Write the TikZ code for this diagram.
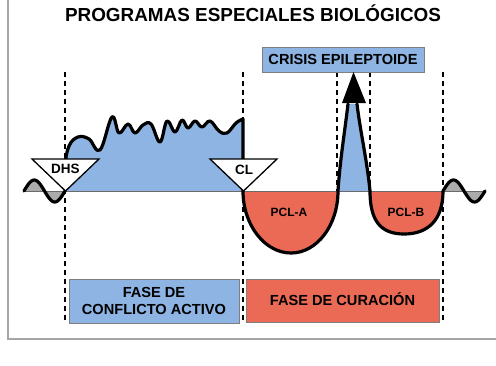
\documentclass[tikz,border=0pt]{standalone}
\usepackage{fontspec}
\setmainfont{Liberation Sans}
\definecolor{bfill}{HTML}{8DB4E2}
\definecolor{rfill}{HTML}{EB6A56}
\definecolor{gfill}{HTML}{ABABAB}
\definecolor{framec}{HTML}{A6A6A6}
\definecolor{boxline}{HTML}{7F7F7F}
\definecolor{basec}{HTML}{6A6A6A}
\begin{document}
\begin{tikzpicture}[x=1pt,y=-1pt,
  vline/.style={line width=1.5pt,dash pattern=on 5pt off 4pt},
  curve/.style={line width=3.2pt,line join=round,line cap=round},
  tri/.style={draw,fill=white,line width=1.3pt,line join=miter},
  phasebox/.style={draw=boxline,line width=1pt,inner sep=0pt,
    font=\fontsize{14.6pt}{17pt}\selectfont\bfseries,align=center},
  trilabel/.style={inner sep=0pt,text height=10pt,text depth=0pt,
    font=\fontsize{13.5pt}{16pt}\selectfont\bfseries},
  pcl/.style={inner sep=0pt,text height=8.6pt,text depth=0pt,
    font=\fontsize{12pt}{14pt}\selectfont\bfseries}]
\useasboundingbox (0,0) rectangle (496,365);
% frame
\draw[framec,line width=1.5pt] (8,-2) -- (8,339) -- (498,339);
% title
\node[inner sep=0pt,text height=13.5pt,text depth=0pt,
  font=\fontsize{18.9pt}{22pt}\selectfont\bfseries] (title) at (253,14.5)
  {PROGRAMAS ESPECIALES BIOLÓGICOS};
% dashed lines
\draw[vline] (65,72) -- (65,323);
\draw[vline] (243,72) -- (243,323);
\draw[vline] (337,72) -- (337,191);
\draw[vline] (370,72) -- (370,191);
\draw[vline] (443,72) -- (443,323);
% fills
\fill[gfill] plot[domain=24:65,samples=41] (\x,{191-11*sin((\x-24)*180/20.5)}) -- cycle;
\fill[gfill] plot[domain=443:485,samples=41] (\x,{191-11*sin((\x-443)*180/21)}) -- cycle;
\def\wavy{(65,191) (65,166) (69,146) (78,137) (89,139) (100,150) (112,117) (119,133) (128,124) (135,133) (143,125) (151,124) (160,142) (167,121) (175,132) (182,120) (188,128) (195,121) (202,127) (210,121) (219,131) (227,133) (236,123) (243,119)}
\fill[bfill] plot[smooth,tension=0.65] coordinates {\wavy} -- (243,191) -- cycle;
\fill[bfill] (338,191) .. controls (340,160) and (345,130) .. (348,104) -- (357,104)
  .. controls (360,130) and (367,160) .. (370,191) -- cycle;
\fill[rfill] (243,191) .. controls (243,225.2) and (265,253) .. (291,253)
  .. controls (317,253) and (338,225.2) .. (338,191) -- cycle;
\fill[rfill] (370,191) .. controls (370,220) and (380,234) .. (404,234)
  .. controls (428,234) and (443,220) .. (443,191) -- cycle;
% baseline
\draw[basec,line width=1pt] (24,191) -- (486,191);
% main curves
\draw[curve] plot[domain=24:65,samples=41] (\x,{191-11*sin((\x-24)*180/20.5)})
  -- plot[smooth,tension=0.65] coordinates {\wavy}
  -- (243,191)
  .. controls (243,225.2) and (265,253) .. (291,253)
  .. controls (317,253) and (338,225.2) .. (338,191)
  .. controls (340,160) and (345,130) .. (348,104);
\draw[curve] (357,104) .. controls (360,130) and (367,160) .. (370,191)
  .. controls (370,220) and (380,234) .. (404,234)
  .. controls (428,234) and (443,220) .. (443,191)
  -- plot[domain=443:485,samples=41] (\x,{191-11*sin((\x-443)*180/21)});
% crisis box and arrowhead
\node[phasebox,fill=bfill,minimum width=162pt,minimum height=25pt,
  text height=10.45pt,text depth=0pt] (crisis) at (343,59.5) {CRISIS EPILEPTOIDE};
\coordinate (tip) at (353.5,72);
\fill (342,103) -- (366,103) -- (tip) -- cycle;
% triangles
\draw[tri] (32,159) -- (99,159) -- (65.5,191) -- cycle;
\node[trilabel] (dhs) at (65.5,168) {DHS};
\draw[tri] (210,159) -- (277,159) -- (243.5,191) -- cycle;
\node[trilabel] (cl) at (244,169) {CL};
% PCL labels
\node[pcl] (pcla) at (289,212) {PCL-A};
\node[pcl] (pclb) at (406,212) {PCL-B};
% phase boxes
\node[phasebox,fill=bfill,minimum width=170pt,minimum height=44pt] (conf) at (154,301)
  {FASE DE\\CONFLICTO ACTIVO};
\node[phasebox,fill=rfill,minimum width=193pt,minimum height=43pt,
  text height=10.45pt,text depth=0pt] (cur) at (342.5,300.5) {FASE DE CURACIÓN};
\end{tikzpicture}
\end{document}
